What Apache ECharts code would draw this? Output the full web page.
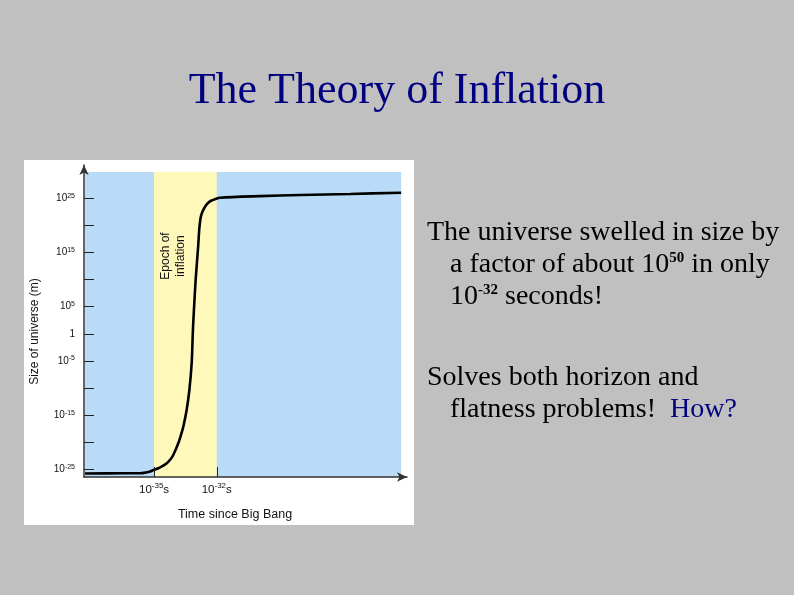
<!DOCTYPE html>
<html>
<head>
<meta charset="utf-8">
<script src="https://cdn.jsdelivr.net/npm/echarts@6.0.0/dist/echarts.min.js"></script>
<style>
html,body{margin:0;padding:0;background:#c0c0c0;}
#chart{width:794px;height:595px;}
</style>
</head>
<body>
<div id="chart"></div>
<script>
// log10 of time since Big Bang (s)
const timeExp = [-38.30, -36.44, -35.67, -35.38, -35.19, -35.03, -34.79, -34.62, -34.39, -34.23, -34.08, -33.84, -33.71, -33.60, -33.44, -33.31, -33.20, -33.14, -33.10, -33.01, -32.89, -32.84, -32.80, -32.76, -32.68, -32.56, -32.42, -32.25, -32.09, -31.85, -29.93, -28.01, -25.62, -23.18];
// log10 of size of universe (m)
const sizeExp = [-25.77, -25.74, -25.74, -25.59, -25.41, -25.13, -24.82, -24.48, -23.89, -23.25, -22.36, -20.20, -18.67, -17.14, -14.06, -10.37, -5.44, 0.71, 3.78, 9.93, 16.07, 19.15, 20.63, 21.61, 22.56, 23.45, 24.13, 24.59, 24.82, 25.10, 25.40, 25.60, 25.80, 26.03];

const yTickValues = [-25, -20, -15, -10, -5, 0, 5, 10, 15, 20, 25];
const yLabelValues = [-25, -15, -5, 0, 5, 15, 25];
const xTickValues = [-35, -32];
const epochTime = [-35, -32];
const panelTime = [-38.30, -23.18];
const panelSize = [-26.42, 29.85];
const axisTime = [-38.35, -22.90];
const axisSize = [-26.42, 31.14];

const chart = echarts.init(document.getElementById('chart'), null, {renderer: 'canvas'});

const sans = 'Liberation Sans';
const serif = 'Liberation Serif';

const mainRich = {
  m: {fontFamily: serif, fontSize: 28, lineHeight: 28, fill: '#000'},
  s: {fontFamily: serif, fontSize: 15, fontWeight: 'bold', lineHeight: 23, verticalAlign: 'top', fill: '#000'},
  n: {fontFamily: serif, fontSize: 28, lineHeight: 28, fill: '#000080'}
};

function bodyLine(x, y, text) {
  return {
    type: 'text', x: x, y: y, z: 10,
    style: {text: text, rich: mainRich, fontFamily: serif, fontSize: 28, fill: '#000',
      align: 'left', verticalAlign: 'top', textAlign: 'left', textVerticalAlign: 'top'}
  };
}

const option = {
  backgroundColor: '#c0c0c0',
  animation: false,
  grid: {left: 84, right: 387, top: 165, bottom: 118, containLabel: false},
  xAxis: {
    type: 'value', min: axisTime[0], max: axisTime[1], z: 5,
    splitLine: {show: false},
    axisLine: {show: true, onZero: false, symbol: ['none', 'arrow'], symbolSize: [7, 10], lineStyle: {color: '#333', width: 1.5}},
    axisTick: {show: true, inside: true, length: 10, customValues: xTickValues, lineStyle: {color: '#222', width: 1}},
    axisLabel: {
      show: true, margin: 5, customValues: xTickValues,
      formatter: function (v) { return '{b|10}{s|' + Math.round(v) + '}{b|s}'; },
      rich: {
        b: {fontFamily: sans, fontSize: 11.5, lineHeight: 16, color: '#111'},
        s: {fontFamily: sans, fontSize: 8, lineHeight: 5, verticalAlign: 'top', color: '#111'}
      }
    }
  },
  yAxis: {
    type: 'value', min: axisSize[0], max: axisSize[1], z: 5,
    splitLine: {show: false},
    axisLine: {show: true, onZero: false, symbol: ['none', 'arrow'], symbolSize: [7, 10], lineStyle: {color: '#333', width: 1.5}},
    axisTick: {show: true, inside: true, length: 10, customValues: yTickValues, lineStyle: {color: '#222', width: 1}},
    axisLabel: {
      show: true, margin: 9, customValues: yLabelValues,
      formatter: function (v) {
        const r = Math.round(v);
        if (r === 0) return '{b|1}';
        return '{b|10}{s|' + r + '}';
      },
      rich: {
        b: {fontFamily: sans, fontSize: 10, lineHeight: 12, color: '#111'},
        s: {fontFamily: sans, fontSize: 7, lineHeight: 4, verticalAlign: 'top', color: '#111'}
      }
    }
  },
  series: [{
    type: 'line',
    data: timeExp.map(function (t, i) { return [t, sizeExp[i]]; }),
    showSymbol: false,
    smooth: 0.3,
    lineStyle: {color: '#000', width: 2.6},
    z: 3,
    markArea: {
      silent: true,
      data: [
        [{xAxis: panelTime[0], yAxis: panelSize[0], itemStyle: {color: '#b9dbf7'}}, {xAxis: panelTime[1], yAxis: panelSize[1]}],
        [{xAxis: epochTime[0], yAxis: panelSize[0], itemStyle: {color: '#fff8bb'}}, {xAxis: epochTime[1], yAxis: panelSize[1]}]
      ]
    }
  }],
  graphic: {
    elements: [
      {type: 'rect', z: -10, shape: {x: 24, y: 160, width: 390, height: 365}, style: {fill: '#ffffff'}},
      {type: 'text', x: 397, y: 69, z: 10,
        style: {text: 'The Theory of Inflation', fontFamily: serif, fontSize: 44, lineHeight: 44, fill: '#000080',
          align: 'center', verticalAlign: 'top', textAlign: 'center', textVerticalAlign: 'top'}},
      {type: 'text', x: 35, y: 331.5, rotation: Math.PI / 2, z: 10,
        style: {text: 'Size of universe (m)', fontFamily: sans, fontSize: 12, fill: '#111',
          align: 'center', verticalAlign: 'middle', textAlign: 'center', textVerticalAlign: 'middle'}},
      {type: 'text', x: 173.5, y: 256, rotation: Math.PI / 2, z: 10,
        style: {text: 'Epoch of\ninflation', fontFamily: sans, fontSize: 12, lineHeight: 15, fill: '#111',
          align: 'center', verticalAlign: 'middle', textAlign: 'center', textVerticalAlign: 'middle'}},
      {type: 'text', x: 235, y: 514.5, z: 10,
        style: {text: 'Time since Big Bang', fontFamily: sans, fontSize: 12.5, fill: '#111',
          align: 'center', verticalAlign: 'middle', textAlign: 'center', textVerticalAlign: 'middle'}},
      bodyLine(427, 219, '{m|The universe swelled in size by}'),
      bodyLine(450, 251, '{m|a factor of about 10}{s|50}{m| in only}'),
      bodyLine(450, 283, '{m|10}{s|-32}{m| seconds!}'),
      bodyLine(427, 364, '{m|Solves both horizon and}'),
      bodyLine(450, 396, '{m|flatness problems!  }{n|How?}')
    ]
  }
};
chart.setOption(option);
</script>
</body>
</html>
